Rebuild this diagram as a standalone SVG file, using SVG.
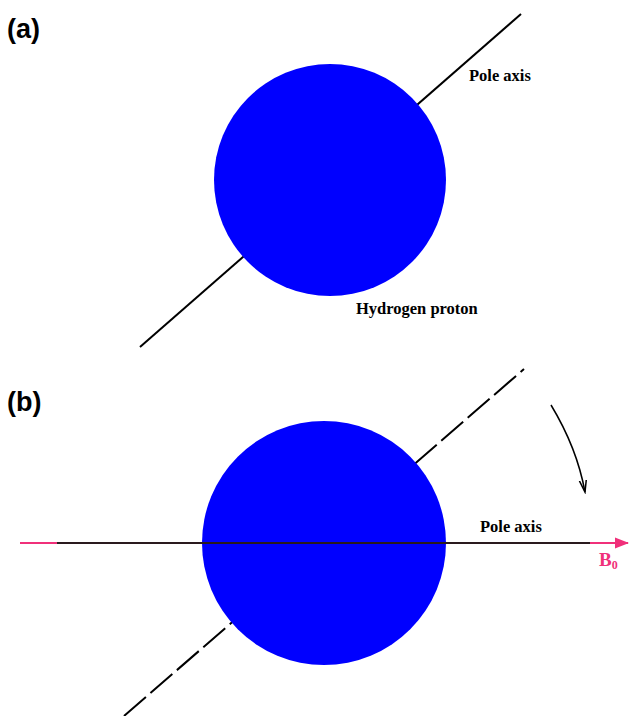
<svg xmlns="http://www.w3.org/2000/svg" width="629" height="716" viewBox="0 0 629 716">
<style>
.panel{font-family:"Liberation Sans",Arial,sans-serif;font-weight:bold;font-size:27px;fill:#000}
.lbl{font-family:"Liberation Serif","Times New Roman",serif;font-weight:bold;font-size:16.5px;fill:#000}
.pink{fill:#f0307a}
.proton{fill:#0000ff}
.axis{stroke:#000;stroke-width:2;fill:none}
</style>
<defs>
<marker id="pinkArrow" markerWidth="14" markerHeight="12" refX="13" refY="6" orient="auto" markerUnits="userSpaceOnUse">
<path d="M0,0.5 L14,6 L0,11.5 Z" fill="#f0307a"/>
</marker>
<marker id="openArrow" markerWidth="14" markerHeight="10" refX="12" refY="5" orient="auto" markerUnits="userSpaceOnUse" viewBox="0 0 14 10">
<path d="M0,1.5 L12,5 L0,8.5" fill="none" stroke="#000" stroke-width="1.5"/>
</marker>
</defs>
<text class="panel" x="7" y="38">(a)</text>
<text class="panel" x="7" y="411">(b)</text>
<g id="connectors">
<line class="axis" x1="140" y1="347" x2="521" y2="14"/>
<line class="axis" x1="124" y1="716" x2="524" y2="369" stroke-dasharray="29,6" stroke-width="1.8"/>
</g>
<g id="proton-a"><circle class="proton" cx="330" cy="180" r="116"/></g>
<g id="proton-b"><circle class="proton" cx="324" cy="543" r="122"/></g>
<g id="connectors-b">
<line x1="20" y1="543" x2="628" y2="543" stroke="#f0307a" stroke-width="2" marker-end="url(#pinkArrow)"/>
<line x1="57" y1="543" x2="590" y2="543" stroke="#2a1a1e" stroke-width="2"/>
<path d="M551,405 Q577,448 585,492" fill="none" stroke="#000" stroke-width="1.5" marker-end="url(#openArrow)"/>
</g>
<text class="lbl" x="469" y="81">Pole axis</text>
<text class="lbl" x="356" y="314">Hydrogen proton</text>
<text class="lbl" x="480" y="532">Pole axis</text>
<text class="lbl pink" x="599" y="566" style="font-size:19px">B<tspan style="font-size:12px" dy="3">0</tspan></text>
</svg>
